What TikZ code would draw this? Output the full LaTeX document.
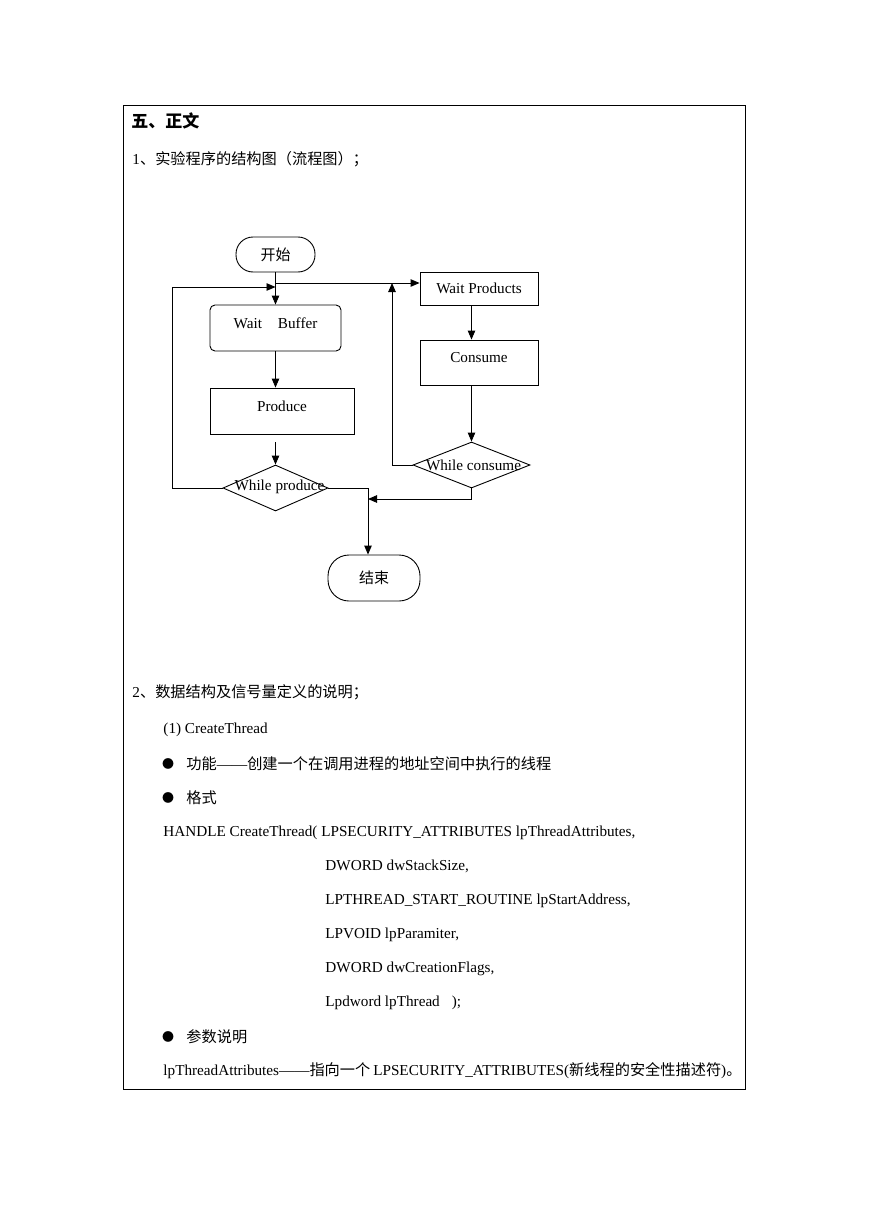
\documentclass[tikz,border=0pt]{standalone}
\usepackage{fontspec}
\setmainfont{Liberation Serif}
\newfontfamily\cjk{Noto Sans CJK SC}
\usetikzlibrary{arrows.meta,shapes.geometric}
\begin{document}
\begin{tikzpicture}[x=1pt,y=-1pt,
  font=\fontsize{15.2}{18}\selectfont,
  line width=0.9pt,
  arr/.style={-{Triangle[length=9pt,width=7.5pt]}},
  box/.style={draw,inner sep=0pt},
  upper/.style={text height=10pt,text depth=10pt},
  txt/.style={anchor=west,inner sep=0pt},
  bul/.style={inner sep=0pt,font=\fontsize{12}{14}\selectfont\cjk}]
\fill[white] (0,0) rectangle (869,1228);
\useasboundingbox (0,0) rectangle (869,1228);
\draw (123,105) rectangle (745,1089);
% headings
\node[txt,font=\fontsize{17}{20}\selectfont\cjk\bfseries] (title) at (131,121) {五、正文};
\node[txt] (h1) at (132,159) {1{\cjk 、实验程序的结构图（流程图）；}};
% flowchart
\node[box,rounded corners=17pt,minimum width=79pt,minimum height=35pt,font=\fontsize{15}{18}\selectfont\cjk] (start) at (275.5,254.5) {开始};
\node[box,rounded corners=5pt,minimum width=131pt,minimum height=46pt,upper] (wb) at (275.5,328) {Wait\hspace{16pt}Buffer};
\node[box,minimum width=144pt,minimum height=46pt,upper] (prod) at (282,411) {Produce};
\node[box,diamond,minimum width=105pt,minimum height=46pt] (d1) at (275.5,488) {};
\node[inner sep=0pt] (d1t) at (279.5,487) {While produce};
\node[box,rounded corners=21pt,minimum width=92pt,minimum height=46pt,font=\fontsize{15}{18}\selectfont\cjk] (end) at (374,578) {结束};
\node[box,minimum width=118pt,minimum height=33pt] (wp) at (479,288.5) {Wait Products};
\node[box,minimum width=118pt,minimum height=45pt,upper] (cons) at (479,362.5) {Consume};
\node[box,diamond,minimum width=117pt,minimum height=46pt] (d2) at (471.5,465) {};
\node[inner sep=0pt] (d2t) at (473.5,465) {While consume};
% connectors
\coordinate (j1) at (275.5,283);
\coordinate (j2) at (392,283);
\coordinate (j3) at (275.5,287);
\coordinate (lc) at (172,287);
\coordinate (m1) at (368,488);
\coordinate (m2) at (368,499);
\draw[arr] (start) -- (wb);
\draw[arr] (j1) -- (j1 -| wp.west);
\draw[arr] (d2.west) -| (j2);
\draw[arr] (d1.west) -| (lc) -- (j3);
\draw[arr] (wb) -- (wb.south |- prod.north);
\draw[arr] ([yshift=-8pt]prod.south -| d1.north) -- (d1.north);
\draw (d1.east) -- (m1);
\draw[arr] (m1) -- (m1 |- end.north);
\draw[arr] (d2.south) |- (m2);
\draw[arr] (wp.south -| d2.north) -- (cons.north -| d2.north);
\draw[arr] (cons.south -| d2.north) -- (d2.north);
% section 2
\node[txt] (h2) at (132,692) {2{\cjk 、数据结构及信号量定义的说明；}};
\node[txt] (l1) at (163,730) {(1) CreateThread};
\node[bul] (b1) at (168,764) {●};
\node[txt] (l2) at (186,764) {{\cjk 功能}——{\cjk 创建一个在调用进程的地址空间中执行的线程}};
\node[bul] (b2) at (168,798) {●};
\node[txt] (l3) at (186,798) {\cjk 格式};
\node[txt] (l4) at (163,833) {HANDLE CreateThread( LPSECURITY\_ATTRIBUTES lpThreadAttributes,};
\node[txt] (l5) at (325,866) {DWORD dwStackSize,};
\node[txt] (l6) at (325,901) {LPTHREAD\_START\_ROUTINE lpStartAddress,};
\node[txt] (l7) at (325,935) {LPVOID lpParamiter,};
\node[txt] (l8) at (325,969) {DWORD dwCreationFlags,};
\node[txt] (l9) at (325,1003) {Lpdword lpThread\hspace{12pt});};
\node[bul] (b3) at (168,1037) {●};
\node[txt] (l10) at (186,1037) {\cjk 参数说明};
\node[txt] (l11) at (163,1071) {lpThreadAttributes——{\cjk 指向一个}\hspace{3pt}LPSECURITY\_ATTRIBUTES({\cjk 新线程的安全性描述符}){\cjk 。}};
\end{tikzpicture}
\end{document}
